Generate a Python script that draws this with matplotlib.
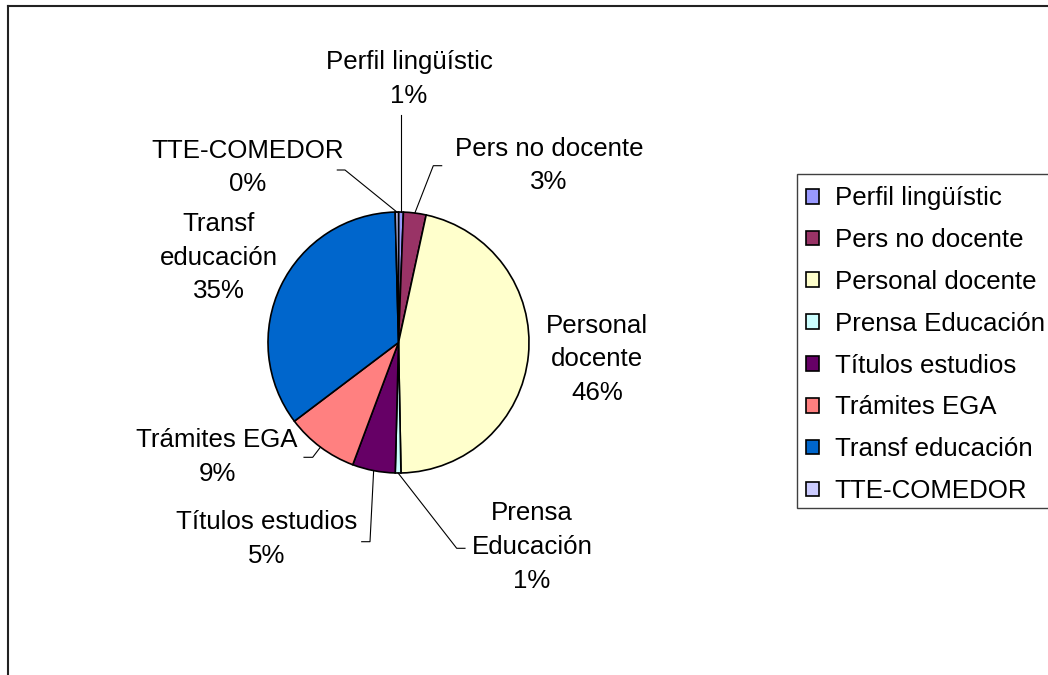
import matplotlib
matplotlib.use('Agg')
import matplotlib.pyplot as plt
from matplotlib.patches import Rectangle
import numpy as np

categories = ['Perfil lingüístic', 'Pers no docente', 'Personal docente', 'Prensa Educación',
              'Títulos estudios', 'Trámites EGA', 'Transf educación', 'TTE-COMEDOR']
values = [0.6, 2.8, 46.3, 0.7, 5.3, 9.0, 34.9, 0.4]
label_names = ['Perfil lingüístic', 'Pers no docente', 'Personal\ndocente', 'Prensa\nEducación',
               'Títulos estudios', 'Trámites EGA', 'Transf\neducación', 'TTE-COMEDOR']
colors = ['#9999FF', '#993366', '#FFFFCC', '#CCFFFF', '#660066', '#FF8080', '#0066CC', '#CCCCFF']

plt.rcParams['font.family'] = ['Liberation Sans', 'DejaVu Sans']
FS = 18.6

W, H = 1048, 675
fig = plt.figure(figsize=(W / 100, H / 100), dpi=100)
fig.patch.set_facecolor('white')

# pie geometry in pixels (layout)
cx, cy, R = 398.5, 342.5, 130.5


def P(px, py):
    return ((px - cx) / R, (cy - py) / R)


ax = fig.add_axes([0, 0, 1, 1])
wedges, _ = ax.pie(values, startangle=90, counterclock=False, colors=colors,
                   wedgeprops=dict(edgecolor='black', linewidth=1.2))
ax.set_aspect('auto')
ax.set_xlim(P(0, 0)[0], P(W, 0)[0])
ax.set_ylim(P(0, H)[1], P(0, 0)[1])
ax.axis('off')

total = sum(values)
# label centres (pixels)
label_pos = [(409, 79), (549, 165.5), (597, 359.5), (532, 547),
             (267, 539), (217, 457), (219, 258), (248, 167.5)]
# leader elbows (pixels); None = no leader
leaders = [[('v', 115)],
           [(433.3, 165.7), (441.7, 165.7)],
           None,
           [(456.7, 548.3), (465, 548.3)],
           [(370, 541.7), (361.7, 541.7)],
           [(312.7, 457.3), (304, 457.3)],
           None,
           [(345, 170), (337.3, 170)]]

cum = 0.0
for i, v in enumerate(values):
    mid = (cum + v / 2) / total * 360.0
    cum += v
    pct = v / total * 100
    txt = f"{label_names[i]}\n{pct:.0f}%"
    lx, ly = P(*label_pos[i])
    ax.text(lx, ly, txt, ha='center', va='center', multialignment='center',
            fontsize=FS, linespacing=1.5, color='black')
    if leaders[i] is not None:
        ex, ey = np.sin(np.radians(mid)), np.cos(np.radians(mid))
        xs, ys = [ex], [ey]
        for pt in leaders[i]:
            if pt[0] == 'v':
                xs.append(ex)
                ys.append(P(0, pt[1])[1])
            else:
                px_, py_ = P(*pt)
                xs.append(px_)
                ys.append(py_)
        ax.plot(xs, ys, color='black', lw=0.8, clip_on=False)

# legend frame (extends past the right edge as in the reference)
fig.add_artist(Rectangle((796.5 / W, 1 - 508 / H), 280 / W, (508 - 174) / H,
                         transform=fig.transFigure, facecolor='white',
                         edgecolor='#404040', lw=1.0, zorder=1))
leg = fig.legend(wedges, categories, loc='upper left',
                 bbox_to_anchor=(796 / W, 1 - 176 / H), bbox_transform=fig.transFigure,
                 borderaxespad=0, frameon=False,
                 handlelength=0.5, handleheight=0.5,
                 handletextpad=0.6, labelspacing=0.69, borderpad=0.4, fontsize=FS)
leg.set_zorder(2)

# outer chart border (top and left visible)
fig.add_artist(plt.Line2D([7.5 / W, 1.0], [1 - 5.5 / H, 1 - 5.5 / H],
                          transform=fig.transFigure, color='#222222', lw=1.5))
fig.add_artist(plt.Line2D([7.5 / W, 7.5 / W], [0, 1 - 5.5 / H],
                          transform=fig.transFigure, color='#222222', lw=1.5))

fig.savefig('out.png', dpi=100, facecolor='white')
